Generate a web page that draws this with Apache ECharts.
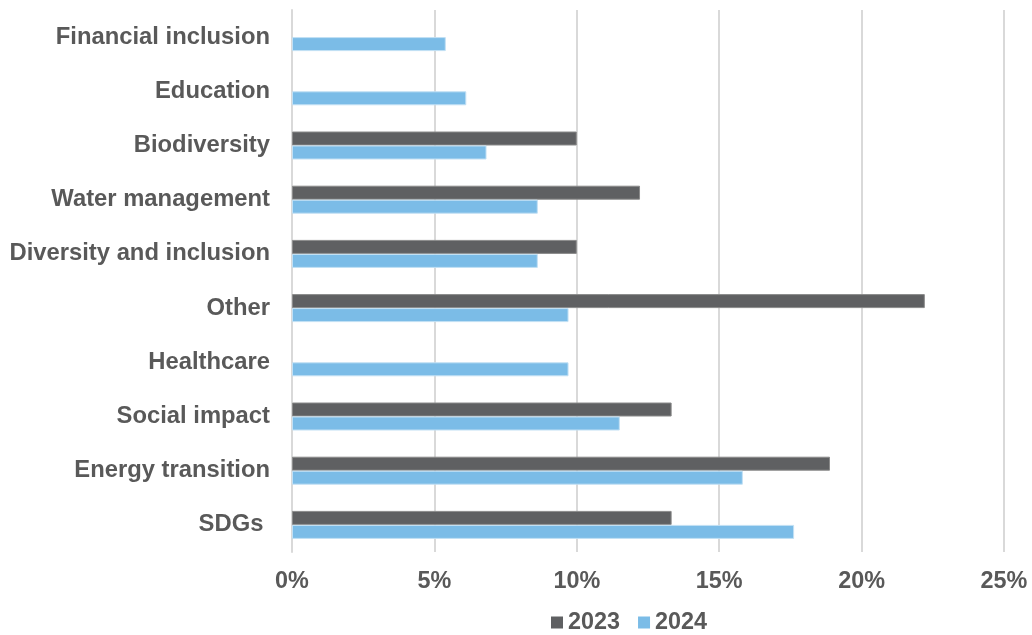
<!DOCTYPE html>
<html>
<head>
<meta charset="utf-8">
<script src="https://cdn.jsdelivr.net/npm/echarts@6/dist/echarts.min.js"></script>
<style>
  html, body { margin: 0; padding: 0; background: #ffffff; }
  #chart { width: 1032px; height: 635px; }
</style>
</head>
<body>
<div id="chart"></div>
<script>
// Themes, listed bottom to top as they sit on the category axis
const categories = [
  'SDGs ', 'Energy transition', 'Social impact', 'Healthcare', 'Other',
  'Diversity and inclusion', 'Water management', 'Biodiversity', 'Education', 'Financial inclusion'
];
// Share of funds per theme, in percent
const share2023 = [13.33, 18.89, 13.33, null, 22.22, 10.0, 12.22, 10.0, null, null];
const share2024 = [17.63, 15.83, 11.51, 9.71, 9.71, 8.63, 8.63, 6.83, 6.12, 5.40];
const seriesNames = ['2023', '2024'];
const axisMax = 25;
const axisStep = 5;

const textColor = '#595959';
const fontFamily = '"Liberation Sans", Arial, sans-serif';
const colors = ['#5f6062', '#7bbce7'];

const chart = echarts.init(document.getElementById('chart'), null, { renderer: 'canvas' });
chart.setOption({
  animation: false,
  backgroundColor: '#ffffff',
  grid: { left: 292, right: 28, top: 10, bottom: 83, containLabel: false },
  legend: {
    data: seriesNames.map((name, i) => ({
      name: name,
      itemStyle: { color: colors[i], borderWidth: 0 }
    })),
    left: 551,
    top: 611,
    padding: 0,
    itemWidth: 12,
    itemHeight: 12,
    itemGap: 18,
    icon: 'rect',
    textStyle: { color: textColor, fontSize: 23.4, fontWeight: 'bold', fontFamily: fontFamily }
  },
  xAxis: {
    type: 'value',
    min: 0,
    max: axisMax,
    interval: axisStep,
    axisLine: { show: false },
    axisTick: { show: false },
    splitLine: { show: true, lineStyle: { color: '#d9d9d9', width: 2 } },
    axisLabel: {
      formatter: '{value}%',
      color: textColor,
      fontSize: 23.4,
      fontWeight: 'bold',
      fontFamily: fontFamily,
      margin: 18
    }
  },
  yAxis: {
    type: 'category',
    data: categories,
    axisLine: { show: true, lineStyle: { color: '#d9d9d9', width: 2 } },
    axisTick: { show: false },
    axisLabel: {
      color: textColor,
      fontSize: 23.8,
      fontWeight: 'bold',
      fontFamily: fontFamily,
      margin: 22
    }
  },
  series: [
    {
      name: seriesNames[0],
      type: 'bar',
      data: share2023,
      barWidth: 14,
      barGap: '0%',
      itemStyle: { color: colors[0], borderColor: '#8a8a8a', borderWidth: 1 }
    },
    {
      name: seriesNames[1],
      type: 'bar',
      data: share2024,
      barWidth: 14,
      barGap: '0%',
      itemStyle: { color: colors[1], borderColor: '#c2e0f4', borderWidth: 1 }
    }
  ]
});
</script>
</body>
</html>
